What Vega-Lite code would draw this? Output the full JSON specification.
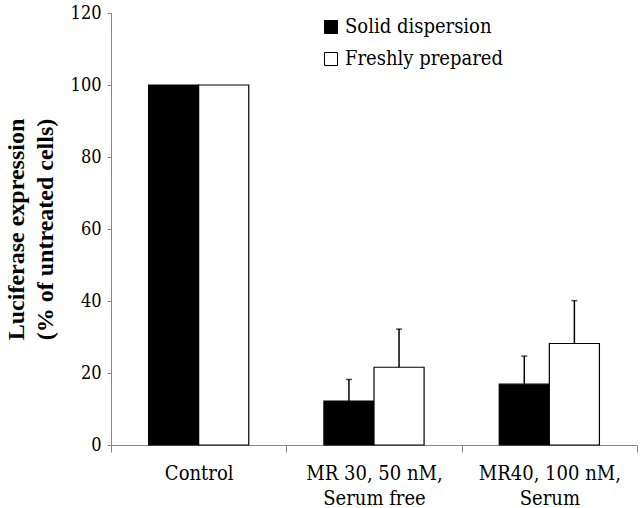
{
  "$schema": "https://vega.github.io/schema/vega-lite/v6.json",
  "autosize": {"type": "none"},
  "width": 526,
  "height": 432,
  "padding": {"left": 111, "top": 13, "right": 3, "bottom": 63},
  "background": "white",
  "config": {
    "font": "DejaVu Serif Condensed, DejaVu Serif",
    "view": {"stroke": null},
    "axis": {"domainColor": "#868686", "tickColor": "#868686", "labelColor": "black", "grid": false}
  },
  "data": {
    "values": [
      {"cat": "Control", "series": "Solid dispersion", "value": 100, "upper": null},
      {"cat": "Control", "series": "Freshly prepared", "value": 100, "upper": null},
      {"cat": "MR 30, 50 nM,|Serum free", "series": "Solid dispersion", "value": 12.2, "upper": 18.2},
      {"cat": "MR 30, 50 nM,|Serum free", "series": "Freshly prepared", "value": 21.6, "upper": 32.2},
      {"cat": "MR40, 100 nM,|Serum", "series": "Solid dispersion", "value": 16.9, "upper": 24.7},
      {"cat": "MR40, 100 nM,|Serum", "series": "Freshly prepared", "value": 28.2, "upper": 40.1}
    ]
  },
  "encoding": {
    "x": {
      "field": "cat", "type": "nominal", "sort": null,
      "scale": {"paddingInner": 0, "paddingOuter": 0},
      "axis": {
        "title": null, "labelAngle": 0, "labelExpr": "split(datum.label, '|')",
        "labelFont": "DejaVu Serif Condensed, DejaVu Serif",
        "labelFontSize": 20, "labelLineHeight": 25, "labelPadding": 27,
        "tickBand": "extent", "tickSize": 7, "labelBaseline": "alphabetic"
      }
    },
    "xOffset": {
      "field": "series", "type": "nominal",
      "sort": ["Solid dispersion", "Freshly prepared"],
      "scale": {"paddingInner": 0, "paddingOuter": 0.75}
    }
  },
  "layer": [
    {
      "mark": {"type": "bar", "stroke": "black", "strokeWidth": 1.2},
      "encoding": {
        "y": {
          "field": "value", "type": "quantitative",
          "scale": {"domain": [0, 120], "nice": false},
          "axis": {
            "values": [0, 20, 40, 60, 80, 100, 120],
            "title": ["Luciferase expression", "(% of untreated cells)"],
            "titleFont": "Liberation Serif",
            "labelFont": "DejaVu Serif Condensed, DejaVu Serif",
            "titleFontSize": 24, "titleFontWeight": "bold", "titleLineHeight": 29,
            "titlePadding": 13, "labelFontSize": 18, "labelPadding": 6, "tickSize": 4
          }
        },
        "color": {
          "field": "series", "type": "nominal",
          "scale": {"domain": ["Solid dispersion", "Freshly prepared"], "range": ["black", "white"]},
          "legend": {
            "title": null, "orient": "none", "legendX": 210, "legendY": 4,
            "labelFont": "DejaVu Serif Condensed, DejaVu Serif",
            "symbolType": "square", "symbolSize": 169, "symbolStrokeColor": "black",
            "symbolStrokeWidth": 1, "labelFontSize": 20, "rowPadding": 12, "labelOffset": 4,
            "labelColor": "black"
          }
        }
      }
    },
    {
      "transform": [{"filter": "datum.upper != null"}],
      "mark": {"type": "rule", "color": "black", "strokeWidth": 1.5},
      "encoding": {
        "y": {"field": "value", "type": "quantitative"},
        "y2": {"field": "upper"}
      }
    },
    {
      "transform": [{"filter": "datum.upper != null"}],
      "mark": {"type": "tick", "color": "black", "size": 6, "thickness": 1.5, "orient": "horizontal"},
      "encoding": {
        "y": {"field": "upper", "type": "quantitative"}
      }
    }
  ]
}
